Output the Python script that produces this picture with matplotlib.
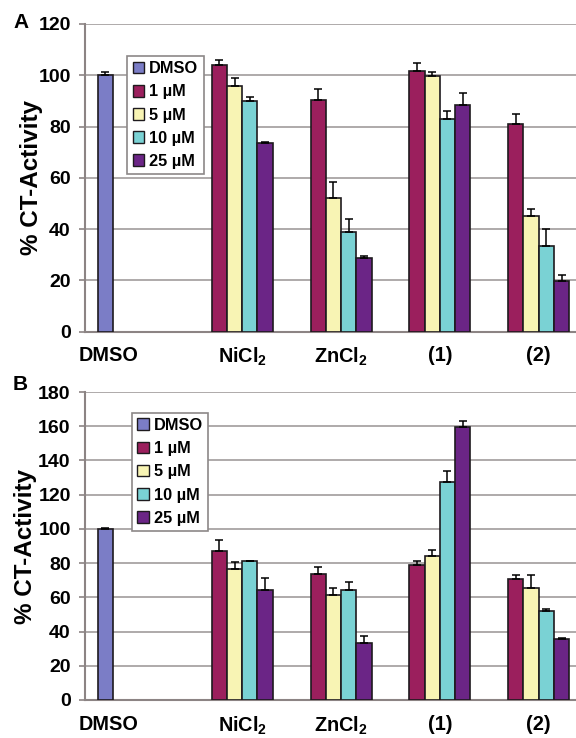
import matplotlib
matplotlib.use("Agg")
import matplotlib.pyplot as plt
import numpy as np
from matplotlib.patches import Patch

plt.rcParams['font.family'] = ['Liberation Sans', 'DejaVu Sans']
plt.rcParams['font.weight'] = 'bold'
plt.rcParams['mathtext.fontset'] = 'custom'
plt.rcParams['mathtext.rm'] = 'Liberation Sans:bold'
plt.rcParams['mathtext.bf'] = 'Liberation Sans:bold'
plt.rcParams['mathtext.it'] = 'Liberation Sans:bold'

# ---------------- data ----------------
categories = ["DMSO", "NiCl$_2$", "ZnCl$_2$", "(1)", "(2)"]
series = ["DMSO", "1 µM", "5 µM", "10 µM", "25 µM"]
compounds = ["NiCl2", "ZnCl2", "(1)", "(2)"]

A_dmso, A_dmso_err = 100.0, 1.3
A_1 = [104.2, 90.5, 101.7, 81.0]
A_1_err = [1.8, 4.0, 3.2, 3.9]
A_5 = [96.0, 52.0, 99.6, 45.2]
A_5_err = [3.1, 6.4, 1.6, 2.7]
A_10 = [90.1, 39.0, 83.0, 33.3]
A_10_err = [1.3, 5.0, 3.1, 6.6]
A_25 = [73.7, 28.6, 88.3, 19.8]
A_25_err = [0.2, 0.9, 4.7, 2.2]

B_dmso, B_dmso_err = 100.1, 0.4
B_1 = [86.9, 73.5, 78.8, 70.8]
B_1_err = [6.4, 4.1, 2.3, 2.5]
B_5 = [76.6, 61.5, 84.0, 65.6]
B_5_err = [3.9, 3.7, 3.9, 7.7]
B_10 = [81.1, 64.0, 127.6, 52.2]
B_10_err = [0.2, 5.0, 6.3, 0.8]
B_25 = [64.2, 33.2, 159.7, 35.9]
B_25_err = [7.2, 4.4, 3.6, 0.4]

colors = ["#7b7dc6", "#9b1f5d", "#f8f4b4", "#7ad2d4", "#6b2586"]
edge = "#1e1a1e"

W, H = 576, 738
fig = plt.figure(figsize=(W / 100, H / 100), dpi=100)
fig.patch.set_facecolor("white")

w = 0.1544  # slot width in category units
xmin, xmax = -0.514, 4.455


def panel(rect, dmso, dmso_err, vals, errs, ymax, label_pad, leg_ul, ylabel_x, letter, letter_y):
    ax = fig.add_axes(rect)
    ax.set_xlim(xmin, xmax)
    ax.set_ylim(0, ymax)
    ax.set_axisbelow(True)
    ax.yaxis.grid(True, color="#a8a4a4", lw=1.3)
    ax.set_yticks(np.arange(0, ymax + 1, 20))
    for s in ["top", "right"]:
        ax.spines[s].set_visible(False)
    for s in ["left", "bottom"]:
        ax.spines[s].set_color("#8c8484")
        ax.spines[s].set_linewidth(1.5)
    ax.tick_params(axis="y", length=4.3, width=1.2, color="#8c8484", pad=6,
                   labelsize=14)
    ax.tick_params(axis="x", length=0, pad=label_pad, labelsize=14.3)

    ekw = dict(ecolor="black", elinewidth=1.1, capsize=2.8, capthick=1.1)
    # DMSO bar (category 0, slot 0)
    x0 = 0 - 2 * w
    ax.bar([x0], [dmso], width=w, color=colors[0], edgecolor=edge, linewidth=1.2,
           yerr=[[0], [dmso_err]], error_kw=ekw, zorder=3)
    cats = np.arange(1, 5)
    for j in range(4):
        xs = cats + (j + 1 - 2) * w
        ax.bar(xs, vals[j], width=w, color=colors[j + 1], edgecolor=edge,
               linewidth=1.2, yerr=[np.zeros(4), errs[j]], error_kw=ekw, zorder=3)
    ticks = [x0 + 0.03] + list(cats + 0.5 * w)
    ax.set_xticks(ticks)
    ax.set_xticklabels(categories)

    ax.set_ylabel("% CT-Activity", fontsize=17.5, fontweight="bold")
    ax.yaxis.set_label_coords(ylabel_x, 0.5)

    handles = [Patch(facecolor=c, edgecolor=edge, linewidth=1.0) for c in colors]
    leg = ax.legend(handles, series, loc="upper left",
                    bbox_to_anchor=(leg_ul[0] / W, 1 - leg_ul[1] / H),
                    bbox_transform=fig.transFigure, borderaxespad=0,
                    fontsize=11.8, frameon=True, fancybox=False,
                    handlelength=0.72, handleheight=0.72, handletextpad=0.3,
                    labelspacing=0.5, borderpad=0.32, framealpha=1)
    leg.get_frame().set_edgecolor("#8c8888")
    leg.get_frame().set_linewidth(1.2)
    fig.text(13 / W, 1 - letter_y / H, letter, fontsize=15, fontweight="bold",
             va="top", ha="left")
    return ax


axl = 85 / W
axw = 1 - axl
# Panel A
panel([axl, 1 - 331.7 / H, axw, (331.7 - 24) / H], A_dmso, A_dmso_err,
      [A_1, A_5, A_10, A_25], [A_1_err, A_5_err, A_10_err, A_25_err],
      120, 10.0, (127.3, 56), -0.085, "A", 13)
# Panel B
panel([axl, 1 - 700 / H, axw, (700 - 392) / H], B_dmso, B_dmso_err,
      [B_1, B_5, B_10, B_25], [B_1_err, B_5_err, B_10_err, B_25_err],
      180, 10.5, (131.7, 412.7), -0.098, "B", 375)

fig.savefig("out.png", dpi=100, facecolor="white")
